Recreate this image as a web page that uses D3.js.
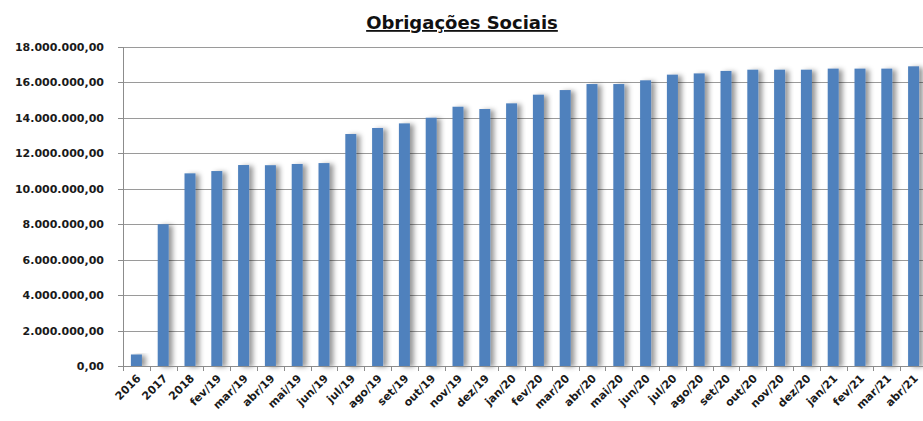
<!DOCTYPE html>
<html lang="pt">
<head>
	<meta charset="UTF-8">
	<title>Obrigações Sociais</title>
	<script src="https://d3js.org/d3.v7.min.js"></script>
	<style>
		body {
			margin: 0;
			background-color: white;
			overflow: hidden;
		}
		svg {
			display: block;
			background-color: white;
		}
		.axis text {
			font-family: "DejaVu Sans", sans-serif;
			font-weight: bold;
			font-size: 11px;
			fill: #1a1a1a;
		}
		.axis path,
		.axis line {
			stroke: #8c8c8c;
			shape-rendering: crispEdges;
		}
		.grid line {
			stroke: #9a9a9a;
			shape-rendering: crispEdges;
		}
		.title {
			font-family: "DejaVu Sans", sans-serif;
			font-weight: bold;
			font-size: 18px;
			text-decoration: underline;
			fill: #111;
		}
	</style>
</head>
<body>
	<script>
		var categories = ['2016','2017','2018','fev/19','mar/19','abr/19','mai/19','jun/19','jul/19','ago/19',
			'set/19','out/19','nov/19','dez/19','jan/20','fev/20','mar/20','abr/20','mai/20','jun/20',
			'jul/20','ago/20','set/20','out/20','nov/20','dez/20','jan/21','fev/21','mar/21','abr/21'];
		var values = [650000, 8000000, 10870000, 11000000, 11340000, 11330000, 11400000, 11450000, 13090000, 13430000,
			13690000, 14010000, 14630000, 14500000, 14820000, 15310000, 15570000, 15910000, 15910000, 16120000,
			16440000, 16510000, 16650000, 16720000, 16720000, 16720000, 16780000, 16780000, 16780000, 16910000];
		var yTicks = [0, 2000000, 4000000, 6000000, 8000000, 10000000, 12000000, 14000000, 16000000, 18000000];

		var w = 923,
			h = 421,
			margin = {top: 47, right: -4, bottom: 55, left: 123},
			width = w - margin.left - margin.right,
			height = h - margin.top - margin.bottom;

		var svg = d3.select('body')
			.append('svg')
			.attr('width', w)
			.attr('height', h);

		var defs = svg.append('defs');
		var f = defs.append('filter')
			.attr('id', 'shadow')
			.attr('x', '-20%').attr('y', '-5%')
			.attr('width', '200%').attr('height', '110%');
		f.append('feDropShadow')
			.attr('dx', 4).attr('dy', 1)
			.attr('stdDeviation', 2.5)
			.attr('flood-color', '#000')
			.attr('flood-opacity', 0.4);

		var x = d3.scaleBand()
			.domain(categories)
			.range([0, width])
			.paddingInner(0.59)
			.paddingOuter(0.295);

		var y = d3.scaleLinear()
			.domain([0, 18000000])
			.range([height, 0]);

		var fmt = function (d) {
			return d3.format(',.2f')(d).replace(/,/g, 'X').replace('.', ',').replace(/X/g, '.');
		};

		svg.append('text')
			.attr('class', 'title')
			.attr('x', 462)
			.attr('y', 29)
			.attr('text-anchor', 'middle')
			.text('Obrigações Sociais');

		var g = svg.append('g')
			.attr('transform', 'translate(' + margin.left + ',' + margin.top + ')');

		g.append('g')
			.attr('class', 'grid')
			.selectAll('line')
			.data(yTicks.slice(1))
			.enter().append('line')
			.attr('x1', 0)
			.attr('x2', width)
			.attr('y1', function (d) { return Math.round(y(d)) + 0.5; })
			.attr('y2', function (d) { return Math.round(y(d)) + 0.5; });

		g.selectAll('.bar')
			.data(values)
			.enter().append('rect')
			.attr('class', 'bar')
			.attr('x', function (d, i) { return x(categories[i]); })
			.attr('y', function (d) { return y(d); })
			.attr('width', x.bandwidth())
			.attr('height', function (d) { return height - y(d); })
			.attr('fill', '#4f81bd')
			.attr('filter', 'url(#shadow)');

		var yAxis = d3.axisLeft(y)
			.tickValues(yTicks)
			.tickSize(5)
			.tickPadding(14)
			.tickFormat(fmt);

		g.append('g')
			.attr('class', 'axis')
			.call(yAxis)
			.call(function (s) { s.select('.domain').attr('d', 'M-5,0.5H0.5V' + height + 'H-5'); });

		var step = x.step();
		var xAxis = g.append('g')
			.attr('class', 'axis')
			.attr('transform', 'translate(0,' + height + ')');

		xAxis.append('line')
			.attr('x1', 0).attr('x2', width)
			.attr('y1', 0.5).attr('y2', 0.5);

		xAxis.selectAll('.tk')
			.data(d3.range(categories.length + 1))
			.enter().append('line')
			.attr('class', 'tk')
			.attr('x1', function (i) { return Math.round(i * step) + 0.5; })
			.attr('x2', function (i) { return Math.round(i * step) + 0.5; })
			.attr('y1', 0).attr('y2', 5);

		xAxis.selectAll('text')
			.data(categories)
			.enter().append('text')
			.attr('text-anchor', 'end')
			.attr('transform', function (d) {
				return 'translate(' + (x(d) + x.bandwidth() / 2 + 5) + ',13) rotate(-45)';
			})
			.text(function (d) { return d; });
	</script>
</body>
</html>
